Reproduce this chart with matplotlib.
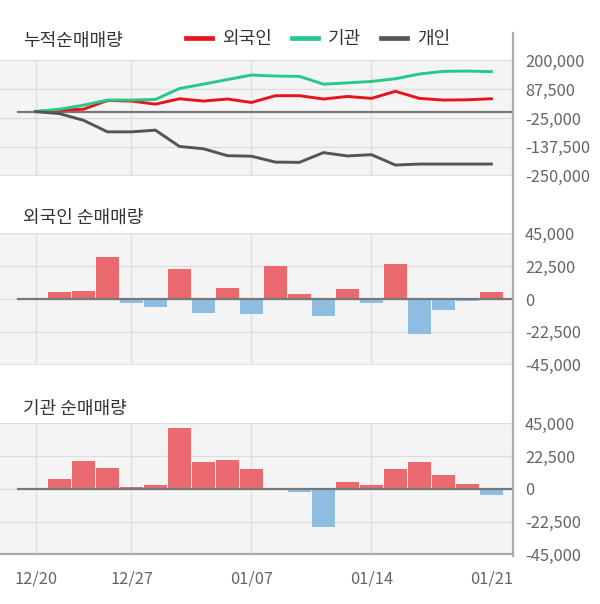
import matplotlib
matplotlib.use("Agg")
import matplotlib.pyplot as plt
from matplotlib.lines import Line2D
import numpy as np

plt.rcParams['font.family'] = ['Noto Sans CJK KR', 'DejaVu Sans']

# ---- data ----
day_index = list(range(20))
tick_pos = [0, 4, 9, 14, 19]
tick_labels = ['12/20', '12/27', '01/07', '01/14', '01/21']

foreign_cum = [0, 5300, 9200, 43500, 41000, 29000, 50000, 41000, 49000, 35600,
               62000, 62000, 49000, 59000, 51500, 79000, 51500, 45000, 46000, 50000]
inst_cum = [0, 9200, 25000, 45000, 45000, 47500, 90000, 107000, 125000, 142500,
            138600, 137300, 107000, 112000, 117500, 128000, 146500, 157000, 158000, 155700]
indiv_cum = [0, -8000, -34000, -79000, -79000, -72500, -136000, -145000, -172000, -174000,
             -197000, -198000, -160000, -173000, -168000, -208500, -204600, -204600, -204600, -204600]

foreign_daily = [0, 4570, 5250, 28800, -2740, -5480, 20330, -9600, 7310, -10300,
                 22700, 3200, -11700, 6660, -2760, 24100, -24100, -7580, -1380, 4820]
inst_daily = [0, 6640, 19000, 13960, 915, 2290, 42100, 18300, 19450, 13550,
              0, -2530, -26200, 4820, 2530, 13550, 18600, 9640, 3210, -4130]

cum_ticks = [200000, 87500, -25000, -137500, -250000]
bar_ticks = [45000, 22500, 0, -22500, -45000]

# ---- style ----
W, H = 600, 604
BG = '#f4f4f4'
GRID = '#dedede'
ZERO = '#777777'
SPINE = '#aaaaaa'
TXT = '#666666'
TITLE = '#333333'
RED_LINE = '#e8141c'
GREEN_LINE = '#26c98b'
GRAY_LINE = '#555555'
BAR_POS = '#ea6a6f'
BAR_NEG = '#8fbde1'

TITLE_FS = 13.0
TICK_FS = 11.8

XL = (-1.48, 19.88)
right_px = 512.5

fig = plt.figure(figsize=(W / 100, H / 100), dpi=100)


def ax_rect(top_px, bottom_px):
    return [0, 1 - bottom_px / H, right_px / W, (bottom_px - top_px) / H]


def fmt(v):
    return f"{v:,}"


def style_axes(ax, yticks, ylim):
    ax.set_facecolor(BG)
    ax.set_xlim(*XL)
    ax.set_ylim(*ylim)
    for s in ax.spines.values():
        s.set_visible(False)
    ax.yaxis.tick_right()
    ax.set_yticks(yticks)
    ax.set_yticklabels([fmt(v) for v in yticks])
    ax.tick_params(axis='y', length=0, pad=9, labelsize=TICK_FS, labelcolor=TXT)
    ax.set_xticks(tick_pos)
    ax.tick_params(axis='x', length=0)
    ax.grid(axis='y', color=GRID, linewidth=1.0)
    ax.set_axisbelow(True)
    for p in tick_pos[:-1]:
        ax.axvline(p, color=GRID, linewidth=1.0, zorder=0.5)
    zero_start = (18 / right_px)
    ax.axhline(0, xmin=zero_start, xmax=1, color=ZERO, linewidth=1.6, zorder=1.5)


# ---- top: cumulative ----
ax1 = fig.add_axes(ax_rect(60.3, 175.7))
style_axes(ax1, cum_ticks, (-250000, 200000))
ax1.set_xticklabels([])
l1, = ax1.plot(day_index, foreign_cum, color=RED_LINE, lw=2.1, zorder=3, label='외국인')
l2, = ax1.plot(day_index, inst_cum, color=GREEN_LINE, lw=2.1, zorder=3, label='기관')
l3, = ax1.plot(day_index, indiv_cum, color=GRAY_LINE, lw=2.1, zorder=3, label='개인')
ax1.axhline(-250000, color=GRID, linewidth=1.2, zorder=1)

fig.text(22.7 / W, 1 - 40.5 / H, '누적순매매량', fontsize=TITLE_FS, color=TITLE,
         ha='left', va='center')

leg_handles = [Line2D([], [], color=c, lw=3.4) for c in (RED_LINE, GREEN_LINE, GRAY_LINE)]
fig.legend(leg_handles, ['외국인', '기관', '개인'], ncol=3, frameon=False,
           loc='center left', bbox_to_anchor=(186 / W, 1 - 39 / H),
           fontsize=TITLE_FS, handlelength=1.45, handletextpad=0.55, columnspacing=1.1,
           borderpad=0, borderaxespad=0, labelcolor=TITLE)


def bar_colors(vals):
    return [BAR_POS if v >= 0 else BAR_NEG for v in vals]


# ---- middle: foreign ----
ax2 = fig.add_axes(ax_rect(233.3, 364.7))
style_axes(ax2, bar_ticks, (-45000, 45000))
ax2.set_xticklabels([])
ax2.bar(day_index, foreign_daily, width=0.95, color=bar_colors(foreign_daily), zorder=1)
ax2.axhline(-45000, color=GRID, linewidth=1.2, zorder=1)
fig.text(22.7 / W, 1 - 218.3 / H, '외국인 순매매량', fontsize=TITLE_FS, color=TITLE,
         ha='left', va='center')

# ---- bottom: institution ----
ax3 = fig.add_axes(ax_rect(423.3, 554.3))
style_axes(ax3, bar_ticks, (-45000, 45000))
ax3.bar(day_index, inst_daily, width=0.95, color=bar_colors(inst_daily), zorder=1)
ax3.set_xticklabels(tick_labels)
ax3.tick_params(axis='x', labelsize=TICK_FS, labelcolor=TXT, pad=12)
ax3.spines['bottom'].set_visible(True)
ax3.spines['bottom'].set_color(SPINE)
ax3.spines['bottom'].set_linewidth(1.6)
fig.text(22.7 / W, 1 - 409 / H, '기관 순매매량', fontsize=TITLE_FS, color=TITLE,
         ha='left', va='center')

# right vertical rule spanning all panels
fig.add_artist(Line2D([right_px / W, right_px / W], [1 - 33.3 / H, 1 - 556 / H],
                      color=SPINE, linewidth=1.6, transform=fig.transFigure))

fig.savefig('out.png', dpi=100, facecolor='white')
